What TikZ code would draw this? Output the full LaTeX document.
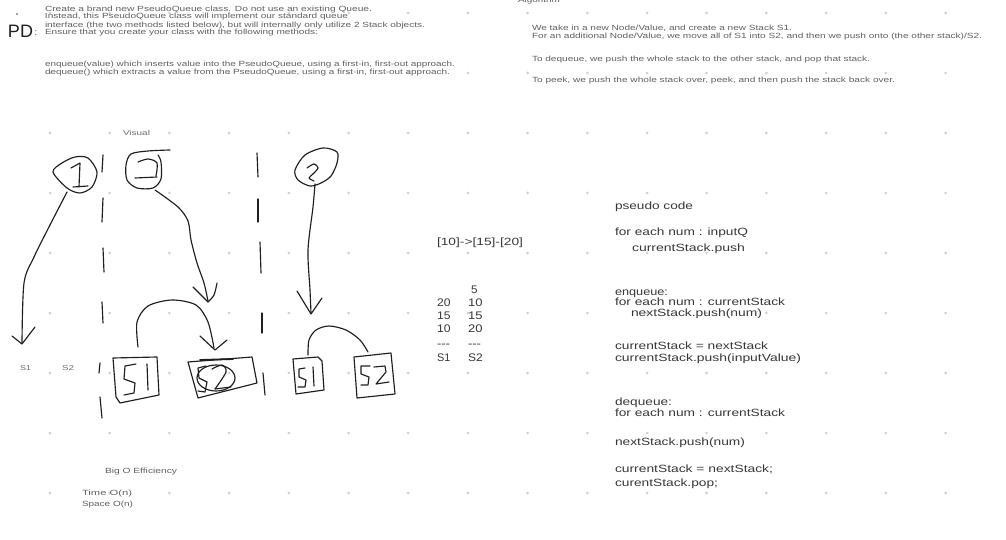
\documentclass[tikz,border=0pt]{standalone}
\usepackage{fontspec}
\setmainfont{Liberation Sans}
\usepackage{graphicx}
\newcommand\fitl[6]{\node[txt,#1] (#2) at (#3,#4) {\resizebox{#5pt}{\height}{#6}};}
\tikzset{
  txt/.style={anchor=base west, inner sep=0pt, outer sep=0pt},
  tsm/.style={font=\fontsize{7.5}{8}\selectfont, text=black!62},
  tlab/.style={font=\fontsize{7}{8}\selectfont, text=black!58},
  tcode/.style={font=\fontsize{10.5}{11}\selectfont, text=black!78},
  ttab/.style={font=\fontsize{11}{11}\selectfont, text=black!78},
  sk/.style={draw=black!88, line width=1.15pt, line cap=round, line join=round},
  dotc/.style={fill=black!18},
}
\begin{document}
\begin{tikzpicture}[x=1pt,y=-1pt]
\useasboundingbox (0,0) rectangle (1006,540);
\fill[white] (0,0) rectangle (1006,540);
\clip (0,0) rectangle (1006,540);
% grid dots
\foreach \i in {0,...,15} \foreach \j in {0,...,8}
  \fill[dotc] (50+59.7*\i, 13+60*\j) circle (1.5pt);
% stray dot
\fill[black!70] (17,14) circle (0.8pt);
% PD:
\node[txt, font=\fontsize{18}{18}\selectfont, text=black!88] (pd) at (8,37.5) {PD};
\node[txt, font=\fontsize{9}{9}\selectfont, text=black!80] (pdc) at (34.5,35.5) {:};
% top-left problem text
\fitl{tsm}{t1}{45}{11.75}{327}{Create a brand new PseudoQueue class. Do not use an existing Queue.}
\fitl{tsm}{t2}{45}{18.25}{303}{Instead, this PseudoQueue class will implement our standard queue}
\fitl{tsm}{t3}{45}{27.25}{380}{interface (the two methods listed below), but will internally only utilize 2 Stack objects.}
\fitl{tsm}{t4}{45}{34.25}{273}{Ensure that you create your class with the following methods:}
\fitl{tsm}{t5}{45}{66.25}{410}{enqueue(value) which inserts value into the PseudoQueue, using a first-in, first-out approach.}
\fitl{tsm}{t6}{45}{74.25}{405}{dequeue() which extracts a value from the PseudoQueue, using a first-in, first-out approach.}
% algorithm text
\fitl{tsm}{r0}{518}{2.5}{42}{Algorithm}
\fitl{tsm}{r1}{532}{30.25}{260}{We take in a new Node/Value, and create a new Stack S1.}
\fitl{tsm}{r2}{532}{38.25}{450}{For an additional Node/Value, we move all of S1 into S2, and then we push onto (the other stack)/S2.}
\fitl{tsm}{r3}{532}{61.25}{338}{To dequeue, we push the whole stack to the other stack, and pop that stack.}
\fitl{tsm}{r4}{532}{82.25}{363}{To peek, we push the whole stack over, peek, and then push the stack back over.}
% labels
\fitl{tlab}{vis}{123}{135.1}{27}{Visual}
\fitl{tlab}{ls1}{20}{370.5}{11}{S1}
\fitl{tlab}{ls2}{62}{370.5}{12}{S2}
\fitl{tsm}{bigo}{105}{473.5}{72}{Big O Efficiency}
\fitl{tsm}{time}{82}{495.5}{50}{Time O(n)}
\fitl{tsm}{space}{82}{506.5}{51}{Space O(n)}
% linked list and stacks
\fitl{tcode}{ll}{437}{245.2}{86}{[10]->[15]-[20]}
\fitl{ttab}{c5}{471}{293.1}{6.5}{5}
\fitl{ttab}{a1}{437}{306.1}{13.5}{20}
\fitl{ttab}{a2}{437}{319.1}{13.5}{15}
\fitl{ttab}{a3}{437}{332.1}{13.5}{10}
\fitl{ttab}{a4}{437}{347}{13}{-{}-{}-}
\fitl{ttab}{a5}{437}{361}{13.3}{S1}
\fitl{ttab}{b1}{468}{306.1}{14.5}{10}
\fitl{ttab}{b2}{468}{319.1}{14.5}{15}
\fitl{ttab}{b3}{468}{332.1}{14.5}{20}
\fitl{ttab}{b4}{468}{347}{13}{-{}-{}-}
\fitl{ttab}{b5}{468}{361}{14.7}{S2}
% pseudo code
\fitl{tcode}{p1}{615}{209.2}{78}{pseudo code}
\fitl{tcode}{p2}{615}{235.2}{133}{for each num : inputQ}
\fitl{tcode}{p3}{632}{251.2}{113}{currentStack.push}
\fitl{tcode}{p4}{615}{295.2}{53}{enqueue:}
\fitl{tcode}{p5}{615}{305.2}{170}{for each num : currentStack}
\fitl{tcode}{p6}{631}{316.2}{131}{nextStack.push(num)}
\fitl{tcode}{p7}{615}{349.2}{153}{currentStack = nextStack}
\fitl{tcode}{p8}{615}{361.2}{186}{currentStack.push(inputValue)}
\fitl{tcode}{p9}{615}{405.2}{57}{dequeue:}
\fitl{tcode}{p10}{615}{416.2}{170}{for each num : currentStack}
\fitl{tcode}{p11}{615}{445.2}{130}{nextStack.push(num)}
\fitl{tcode}{p12}{615}{472.2}{158}{currentStack = nextStack;}
\fitl{tcode}{p13}{615}{486.2}{103}{curentStack.pop;}
% ---------- sketch ----------
% dashed separators
\foreach \a/\b in {{103,155}/{102,172},{103,198}/{102,222},{103,248}/{104,272},{102,302}/{103,323},{100,363}/{99,373},{100,397}/{102,418}}
  \draw[sk] (\a) -- (\b);
\foreach \a/\b in {{257,153}/{258,177},{258,199}/{258,222},{260,242}/{261,273},{262,313}/{262,333},{263,373}/{265,395}}
  \draw[sk] (\a) -- (\b);
% panel 1
\draw[sk] plot[smooth cycle] coordinates {(53,172) (62,163) (75,157) (88,158) (97,172) (92,187) (80,193) (67,188)};
\draw[sk] (71,168) -- (80,163) -- (79,187);
\draw[sk] (73,187) -- (88,186);
\draw[sk] plot[smooth] coordinates {(67,192) (50,225) (34,257) (24,283) (22,343)};
\draw[sk] (12,336) -- (22,344) -- (35,327);
% panel 2
\draw[sk] plot[smooth] coordinates {(170,150) (148,151) (131,154) (126,165) (127,180) (137,188) (153,188) (161,179) (161,162) (158,155)};
\draw[sk] plot[smooth] coordinates {(138,162) (148,159) (157,163) (156,176)};
\draw[sk] (135,178) -- (157,177);
\draw[sk] plot[smooth] coordinates {(155,190) (178,207) (188,221) (191,240) (197,263) (204,283) (208,301)};
\draw[sk] (193,287) -- (208,302);
\draw[sk] plot[smooth] coordinates {(217,283) (214,295) (208,302)};
\draw[sk] plot[smooth] coordinates {(138,347) (137,322) (148,306) (172,300) (196,305) (208,322) (214,348)};
\draw[sk] (200,336) -- (215,350) -- (227,340);
\draw[sk] (113,358) -- (157,357) -- (159,395) -- (120,403) -- (116,397) -- cycle;
\draw[sk] (136,364) -- (125,366) -- (124,379) -- (135,383) -- (134,393) -- (124,395);
\draw[sk] (147,364) -- (148,390);
\draw[sk] (188,362) -- (252,357) -- (257,383) -- (198,398) -- cycle;
\draw[sk, line width=1.8pt] (200,360) -- (233,359);
\draw[sk] (216,378) ellipse [x radius=19pt, y radius=13pt];
\draw[sk] (206,366) -- (198,368) -- (199,378) -- (207,382) -- (205,392) -- (198,391);
\draw[sk] plot[smooth] coordinates {(212,369) (222,365) (226,372) (215,389)};
\draw[sk] (215,389) -- (231,387);
% panel 3
\draw[sk] plot[smooth cycle] coordinates {(337,152) (323,148) (305,155) (295,170) (298,180) (310,186) (321,183) (331,176) (337,163)};
\draw[sk] plot[smooth] coordinates {(307,168) (314,164) (318,168) (313,174) (309,178) (314,181)};
\draw[sk] plot[smooth] coordinates {(315,184) (313,207) (308,250) (310,290) (311,313)};
\draw[sk] (297,291) -- (311,314) -- (322,298);
\draw[sk] plot[smooth] coordinates {(308,355) (309,340) (316,330) (329,326) (346,330) (360,340) (368,352)};
\draw[sk] (293,359) -- (318,357) -- (322,361) -- (324,390) -- (296,394) -- cycle;
\draw[sk] (305,368) -- (299,369) -- (299,377) -- (306,380) -- (305,387) -- (298,387);
\draw[sk] (313,367) -- (314,386);
\draw[sk] (354,357) -- (391,353) -- (395,394) -- (357,398) -- cycle;
\draw[sk] (370,366) -- (361,366) -- (361,374) -- (369,377) -- (368,385) -- (361,385);
\draw[sk] (374,367) -- (385,366) -- (386,372) -- (376,384) -- (389,382);
\end{tikzpicture}
\end{document}
